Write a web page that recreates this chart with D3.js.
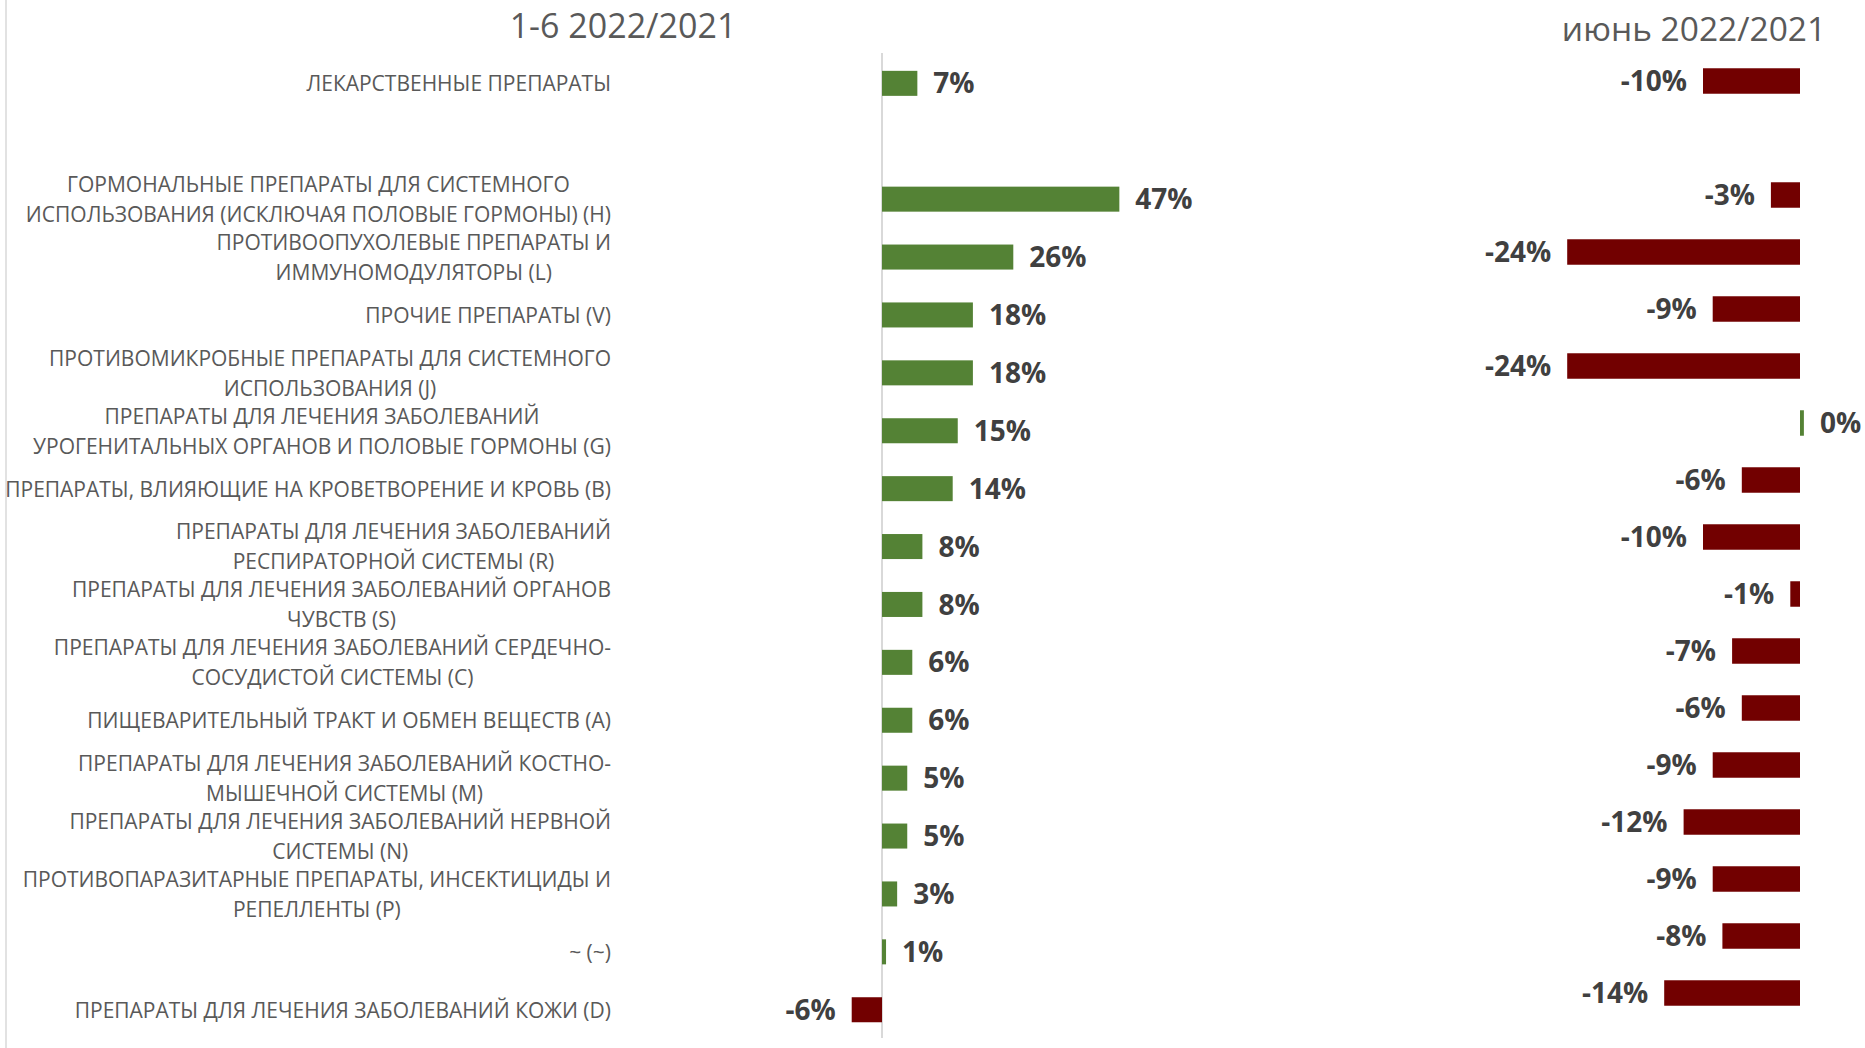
<!DOCTYPE html>
<html>
<head>
<meta charset="utf-8">
<script src="https://cdn.jsdelivr.net/npm/d3@7"></script>
<style>
  html, body { margin: 0; padding: 0; background: #ffffff; }
  svg { display: block; font-family: "Open Sans", "DejaVu Sans", sans-serif; }
</style>
</head>
<body>
<svg id="chart" width="1865" height="1048"></svg>
<script>
// ATC groups; the empty entry is a spacer row under the total
const categories = [
  "ЛЕКАРСТВЕННЫЕ ПРЕПАРАТЫ",
  "",
  "ГОРМОНАЛЬНЫЕ ПРЕПАРАТЫ ДЛЯ СИСТЕМНОГО\nИСПОЛЬЗОВАНИЯ (ИСКЛЮЧАЯ ПОЛОВЫЕ ГОРМОНЫ) (H)",
  "ПРОТИВООПУХОЛЕВЫЕ ПРЕПАРАТЫ И\nИММУНОМОДУЛЯТОРЫ (L)",
  "ПРОЧИЕ ПРЕПАРАТЫ (V)",
  "ПРОТИВОМИКРОБНЫЕ ПРЕПАРАТЫ ДЛЯ СИСТЕМНОГО\nИСПОЛЬЗОВАНИЯ (J)",
  "ПРЕПАРАТЫ ДЛЯ ЛЕЧЕНИЯ ЗАБОЛЕВАНИЙ\nУРОГЕНИТАЛЬНЫХ ОРГАНОВ И ПОЛОВЫЕ ГОРМОНЫ (G)",
  "ПРЕПАРАТЫ, ВЛИЯЮЩИЕ НА КРОВЕТВОРЕНИЕ И КРОВЬ (B)",
  "ПРЕПАРАТЫ ДЛЯ ЛЕЧЕНИЯ ЗАБОЛЕВАНИЙ\nРЕСПИРАТОРНОЙ СИСТЕМЫ (R)",
  "ПРЕПАРАТЫ ДЛЯ ЛЕЧЕНИЯ ЗАБОЛЕВАНИЙ ОРГАНОВ\nЧУВСТВ (S)",
  "ПРЕПАРАТЫ ДЛЯ ЛЕЧЕНИЯ ЗАБОЛЕВАНИЙ СЕРДЕЧНО-\nСОСУДИСТОЙ СИСТЕМЫ (C)",
  "ПИЩЕВАРИТЕЛЬНЫЙ ТРАКТ И  ОБМЕН ВЕЩЕСТВ (A)",
  "ПРЕПАРАТЫ ДЛЯ ЛЕЧЕНИЯ ЗАБОЛЕВАНИЙ КОСТНО-\nМЫШЕЧНОЙ СИСТЕМЫ (M)",
  "ПРЕПАРАТЫ ДЛЯ ЛЕЧЕНИЯ ЗАБОЛЕВАНИЙ НЕРВНОЙ\nСИСТЕМЫ (N)",
  "ПРОТИВОПАРАЗИТАРНЫЕ ПРЕПАРАТЫ, ИНСЕКТИЦИДЫ И\nРЕПЕЛЛЕНТЫ (P)",
  "~ (~)",
  "ПРЕПАРАТЫ ДЛЯ ЛЕЧЕНИЯ ЗАБОЛЕВАНИЙ КОЖИ (D)"
];

// Growth, January–June 2022 vs 2021, %
const ytdGrowth = [7, null, 47, 26, 18, 18, 15, 14, 8, 8, 6, 6, 5, 5, 3, 0.8, -6];

// Growth, June 2022 vs June 2021, %
const juneGrowth = [-10, null, -3, -24, -9, -24, 0.4, -6, -10, -1, -7, -6, -9, -12, -9, -8, -14];

const panelTitles = ["1-6 2022/2021", "июнь 2022/2021"];

const GREEN = "#548235";
const RED = "#720000";
const LABEL_GREY = "#595959";
const VALUE_GREY = "#404040";

const svg = d3.select("#chart");
const fmt = v => Math.round(v) + "%";
const rows = d3.range(categories.length);

// thin frame line on the left edge
svg.append("line")
  .attr("x1", 6).attr("x2", 6).attr("y1", 0).attr("y2", 1048)
  .attr("stroke", "#d9d9d9").attr("stroke-width", 1.5);

// ---------- left panel: January–June ----------
const xL = d3.scaleLinear().domain([0, 47]).range([882, 882 + 47 * 5.05]);
const yL = d3.scaleBand().domain(rows).range([54.4, 1038.7])
  .paddingInner(0.568).paddingOuter(0.284);

// ---------- right panel: June ----------
const xR = d3.scaleLinear().domain([-24, 0]).range([1800 - 24 * 9.7, 1800]);
const yR = d3.scaleBand().domain(rows).range([52.5, 1021.5])
  .paddingInner(0.553).paddingOuter(0.2765);

// zero line of the left panel
svg.append("line")
  .attr("x1", xL(0)).attr("x2", xL(0)).attr("y1", 53).attr("y2", 1038)
  .attr("stroke", "#d9d9d9").attr("stroke-width", 2);

function drawBars(values, x, y) {
  const data = rows.filter(i => values[i] !== null).map(i => ({ i, v: values[i] }));
  const g = svg.append("g");
  g.selectAll("rect").data(data).join("rect")
    .attr("x", d => Math.min(x(0), x(d.v)))
    .attr("width", d => Math.abs(x(d.v) - x(0)))
    .attr("y", d => y(d.i))
    .attr("height", y.bandwidth())
    .attr("fill", d => d.v >= 0 ? GREEN : RED);
  g.selectAll("text").data(data).join("text")
    .attr("x", d => d.v >= 0 ? x(d.v) + 16 : x(d.v) - 16)
    .attr("y", d => y(d.i) + y.bandwidth() / 2)
    .attr("dy", "0.36em")
    .attr("text-anchor", d => d.v >= 0 ? "start" : "end")
    .attr("font-size", 28)
    .attr("font-weight", 700)
    .attr("fill", VALUE_GREY)
    .text(d => fmt(d.v));
}

drawBars(ytdGrowth, xL, yL);
drawBars(juneGrowth, xR, yR);

// category labels: multi-line blocks, lines centred inside a right-aligned block
const labelRight = 611;
const labelSize = 22;
const labelSquash = 0.955;
const lineGap = 30;
const labelG = svg.append("g");
rows.forEach(i => {
  if (!categories[i]) return;
  const lines = categories[i].split("\n");
  const cy = yL(i) + yL.bandwidth() / 2;
  const g = labelG.append("g")
    .attr("transform", `translate(${labelRight},${cy}) scale(${labelSquash},1)`);
  const texts = lines.map((ln, k) => g.append("text")
    .attr("y", (k - (lines.length - 1) / 2) * lineGap)
    .attr("dy", "0.36em")
    .attr("font-size", labelSize)
    .attr("fill", LABEL_GREY)
    .attr("text-anchor", "middle")
    .text(ln));
  const maxW = d3.max(texts, t => t.node().getComputedTextLength());
  texts.forEach(t => t.attr("x", -maxW / 2));
});

// panel titles
svg.append("text")
  .attr("x", 623).attr("y", 38)
  .attr("text-anchor", "middle")
  .attr("font-size", 34)
  .attr("fill", LABEL_GREY)
  .text(panelTitles[0]);
svg.append("text")
  .attr("x", 1694).attr("y", 41)
  .attr("text-anchor", "middle")
  .attr("font-size", 33.5)
  .attr("fill", LABEL_GREY)
  .text(panelTitles[1]);
</script>
</body>
</html>
